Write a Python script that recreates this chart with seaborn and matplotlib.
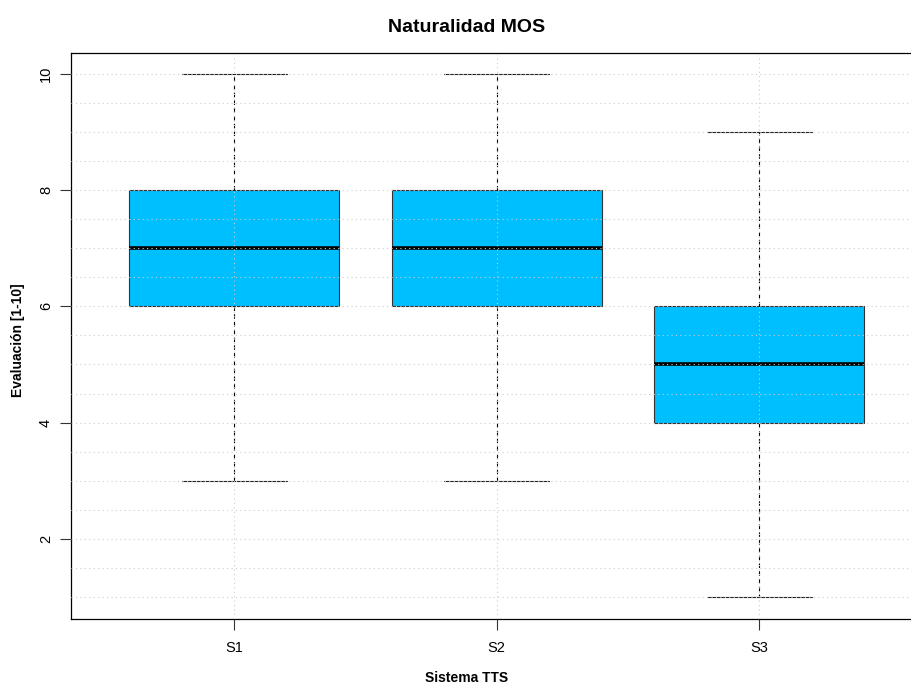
import matplotlib
matplotlib.use("Agg")
import matplotlib.pyplot as plt
import seaborn as sns
import pandas as pd
import numpy as np
from matplotlib.ticker import MultipleLocator

# Data (scores whose quartiles/whiskers match the reference)
categories = ["S1", "S2", "S3"]
scores_s1 = [3, 6, 6, 7, 7, 7, 8, 8, 10]
scores_s2 = [3, 6, 6, 7, 7, 7, 8, 8, 10]
scores_s3 = [1, 4, 4, 5, 5, 5, 6, 6, 9]
yticks = [2, 4, 6, 8, 10]

df = pd.DataFrame({
    "Sistema": np.repeat(categories, [len(scores_s1), len(scores_s2), len(scores_s3)]),
    "Score": scores_s1 + scores_s2 + scores_s3,
})

sns.set_style("white")
plt.rcParams["font.family"] = ["Liberation Sans", "DejaVu Sans"]
plt.rcParams["text.color"] = "black"
plt.rcParams["xtick.color"] = "black"
plt.rcParams["ytick.color"] = "black"

fig = plt.figure(figsize=(9.11, 6.85), dpi=100)
ax = fig.add_axes([71/911, 1-619/685, (910-71)/911, (619-53)/685])

sns.boxplot(data=df, x="Sistema", y="Score", order=categories, ax=ax,
            color="#00BFFF", saturation=1, width=0.8, whis=1.5, fliersize=0,
            linecolor="black", linewidth=0.8,
            boxprops=dict(edgecolor="#333333", linewidth=0.8),
            medianprops=dict(color="black", linewidth=2.6),
            whiskerprops=dict(color="black", linewidth=0.8, linestyle=(0, (4, 3))),
            capprops=dict(color="black", linewidth=0.8, linestyle="-"))

# cap width = half box width like R, solid caps
for line in ax.lines:
    xd = np.asarray(line.get_xdata(), dtype=float)
    yd = np.asarray(line.get_ydata(), dtype=float)
    if len(xd) == 2 and yd[0] == yd[1] and line.get_linewidth() < 2:
        c = (xd[0] + xd[1]) / 2
        line.set_xdata([c - 0.2, c + 0.2])
        line.set_linestyle("-")
        line.set_color("#222222")

ax.set_xlim(-0.621, 2.575)
ax.set_ylim(0.62, 10.36)
ax.set_yticks(yticks)
ax.set_yticklabels([str(t) for t in yticks], rotation=90, va="center")
ax.yaxis.set_minor_locator(MultipleLocator(0.5))
ax.grid(which="both", axis="y", color="#cccccc", linestyle=(0, (1, 3)), linewidth=0.8, zorder=10)
ax.grid(which="major", axis="x", color="#cccccc", linestyle=(0, (1, 3)), linewidth=0.8, zorder=10)
ax.set_axisbelow(False)
ax.tick_params(axis="both", which="major", direction="out", length=8, width=0.8, color="#333333",
               labelsize=10.5, left=True, bottom=True)
ax.tick_params(axis="x", pad=8)
ax.tick_params(axis="y", pad=5)
ax.tick_params(axis="y", which="minor", length=0)
for s in ax.spines.values():
    s.set_color("black")
    s.set_linewidth(0.9)
ax.spines["right"].set_visible(False)

ax.set_xlabel("")
ax.set_ylabel("")
fig.text(467/911, 1-27/685, "Naturalidad MOS", ha="center", va="center",
         fontsize=14, fontweight="bold")
fig.text(467/911, 1-678/685, "Sistema TTS", ha="center", va="center",
         fontsize=10, fontweight="bold")
fig.text(18/911, 1-340/685, "Evaluación [1-10]", ha="center", va="center", rotation=90,
         fontsize=10, fontweight="bold")

fig.savefig("out.png", dpi=100)
